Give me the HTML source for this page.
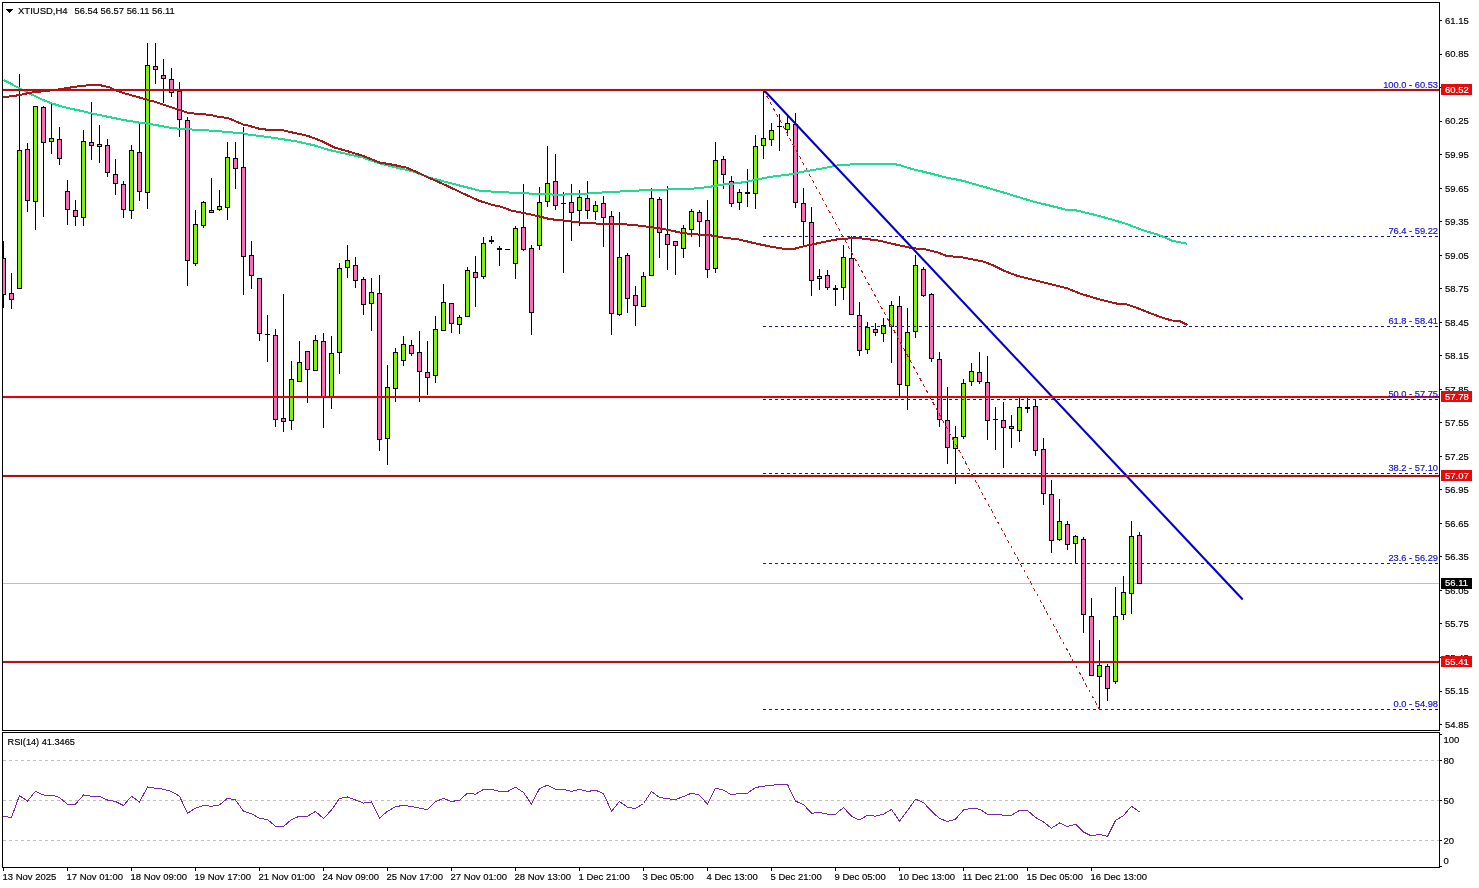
<!DOCTYPE html>
<html lang="en"><head><meta charset="utf-8"><title>XTIUSD,H4</title>
<style>html,body{margin:0;padding:0;background:#fff;overflow:hidden}svg{display:block}text{font-family:"Liberation Sans","DejaVu Sans",sans-serif;font-size:9.5px;fill:#000;stroke:#000;stroke-width:.16px}.b{fill:#1212c4;stroke:#1212c4}.w{fill:#fff;stroke:#fff}.ce{shape-rendering:crispEdges}</style></head><body>
<svg width="1479" height="888" viewBox="0 0 1479 888">
<rect width="1479" height="888" fill="#fff"/>
<g class="ce">
<rect x="3" y="583" width="1436" height="1" fill="#c0c0c0"/>
<line x1="3" x2="1439" y1="760.5" y2="760.5" stroke="#c0c0c0" stroke-width="1" stroke-dasharray="3 3"/>
<line x1="3" x2="1439" y1="800.5" y2="800.5" stroke="#c0c0c0" stroke-width="1" stroke-dasharray="3 3"/>
<line x1="3" x2="1439" y1="840.5" y2="840.5" stroke="#c0c0c0" stroke-width="1" stroke-dasharray="3 3"/>
</g>
<g class="ce">
<rect x="3" y="88" width="1436" height="4" fill="#fff0f0"/>
<rect x="3" y="395" width="1436" height="4" fill="#fff0f0"/>
<rect x="3" y="474" width="1436" height="4" fill="#fff0f0"/>
<rect x="3" y="660" width="1436" height="4" fill="#fff0f0"/>
<rect x="3" y="241" width="1" height="67"/>
<rect x="1" y="258" width="5" height="37"/>
<rect x="2" y="259" width="3" height="35" fill="#f870b4"/>
<rect x="11" y="273" width="1" height="36"/>
<rect x="9" y="293" width="5" height="7"/>
<rect x="10" y="294" width="3" height="5" fill="#f870b4"/>
<rect x="19" y="74" width="1" height="215"/>
<rect x="17" y="150" width="5" height="139"/>
<rect x="18" y="151" width="3" height="137" fill="#80f010"/>
<rect x="27" y="143" width="1" height="69"/>
<rect x="25" y="149" width="5" height="52"/>
<rect x="26" y="150" width="3" height="50" fill="#f870b4"/>
<rect x="35" y="106" width="1" height="124"/>
<rect x="33" y="106" width="5" height="96"/>
<rect x="34" y="107" width="3" height="94" fill="#80f010"/>
<rect x="43" y="106" width="1" height="111"/>
<rect x="41" y="107" width="5" height="36"/>
<rect x="42" y="108" width="3" height="34" fill="#f870b4"/>
<rect x="51" y="104" width="1" height="50"/>
<rect x="49" y="138" width="5" height="4"/>
<rect x="50" y="139" width="3" height="2" fill="#80f010"/>
<rect x="59" y="127" width="1" height="38"/>
<rect x="57" y="139" width="5" height="20"/>
<rect x="58" y="140" width="3" height="18" fill="#f870b4"/>
<rect x="67" y="180" width="1" height="45"/>
<rect x="65" y="191" width="5" height="19"/>
<rect x="66" y="192" width="3" height="17" fill="#f870b4"/>
<rect x="75" y="200" width="1" height="26"/>
<rect x="73" y="210" width="5" height="7"/>
<rect x="74" y="211" width="3" height="5" fill="#f870b4"/>
<rect x="83" y="130" width="1" height="96"/>
<rect x="81" y="141" width="5" height="77"/>
<rect x="82" y="142" width="3" height="75" fill="#80f010"/>
<rect x="91" y="102" width="1" height="58"/>
<rect x="89" y="142" width="5" height="4"/>
<rect x="90" y="143" width="3" height="2" fill="#f870b4"/>
<rect x="99" y="125" width="1" height="38"/>
<rect x="97" y="144" width="5" height="3"/>
<rect x="98" y="145" width="3" height="1" fill="#80f010"/>
<rect x="107" y="139" width="1" height="38"/>
<rect x="105" y="145" width="5" height="28"/>
<rect x="106" y="146" width="3" height="26" fill="#f870b4"/>
<rect x="115" y="159" width="1" height="36"/>
<rect x="113" y="174" width="5" height="10"/>
<rect x="114" y="175" width="3" height="8" fill="#f870b4"/>
<rect x="123" y="181" width="1" height="37"/>
<rect x="121" y="184" width="5" height="26"/>
<rect x="122" y="185" width="3" height="24" fill="#f870b4"/>
<rect x="131" y="145" width="1" height="74"/>
<rect x="129" y="150" width="5" height="61"/>
<rect x="130" y="151" width="3" height="59" fill="#80f010"/>
<rect x="139" y="124" width="1" height="77"/>
<rect x="137" y="152" width="5" height="40"/>
<rect x="138" y="153" width="3" height="38" fill="#f870b4"/>
<rect x="147" y="43" width="1" height="166"/>
<rect x="145" y="65" width="5" height="128"/>
<rect x="146" y="66" width="3" height="126" fill="#80f010"/>
<rect x="155" y="43" width="1" height="41"/>
<rect x="153" y="66" width="5" height="4"/>
<rect x="154" y="67" width="3" height="2" fill="#f870b4"/>
<rect x="163" y="59" width="1" height="44"/>
<rect x="161" y="75" width="5" height="4"/>
<rect x="162" y="76" width="3" height="2" fill="#f870b4"/>
<rect x="171" y="68" width="1" height="29"/>
<rect x="169" y="79" width="5" height="14"/>
<rect x="170" y="80" width="3" height="12" fill="#f870b4"/>
<rect x="179" y="82" width="1" height="55"/>
<rect x="177" y="91" width="5" height="29"/>
<rect x="178" y="92" width="3" height="27" fill="#f870b4"/>
<rect x="187" y="117" width="1" height="169"/>
<rect x="185" y="120" width="5" height="141"/>
<rect x="186" y="121" width="3" height="139" fill="#f870b4"/>
<rect x="195" y="210" width="1" height="56"/>
<rect x="193" y="224" width="5" height="40"/>
<rect x="194" y="225" width="3" height="38" fill="#80f010"/>
<rect x="203" y="201" width="1" height="27"/>
<rect x="201" y="202" width="5" height="24"/>
<rect x="202" y="203" width="3" height="22" fill="#80f010"/>
<rect x="211" y="178" width="1" height="35"/>
<rect x="209" y="210" width="5" height="3"/>
<rect x="210" y="211" width="3" height="1" fill="#80f010"/>
<rect x="219" y="190" width="1" height="21"/>
<rect x="217" y="206" width="5" height="4"/>
<rect x="218" y="207" width="3" height="2" fill="#80f010"/>
<rect x="227" y="142" width="1" height="78"/>
<rect x="225" y="157" width="5" height="51"/>
<rect x="226" y="158" width="3" height="49" fill="#80f010"/>
<rect x="235" y="142" width="1" height="47"/>
<rect x="233" y="158" width="5" height="11"/>
<rect x="234" y="159" width="3" height="9" fill="#f870b4"/>
<rect x="243" y="127" width="1" height="168"/>
<rect x="241" y="167" width="5" height="90"/>
<rect x="242" y="168" width="3" height="88" fill="#f870b4"/>
<rect x="251" y="241" width="1" height="48"/>
<rect x="249" y="255" width="5" height="21"/>
<rect x="250" y="256" width="3" height="19" fill="#f870b4"/>
<rect x="259" y="278" width="1" height="63"/>
<rect x="257" y="278" width="5" height="56"/>
<rect x="258" y="279" width="3" height="54" fill="#f870b4"/>
<rect x="267" y="315" width="1" height="47"/>
<rect x="265" y="334" width="5" height="1"/>
<rect x="275" y="329" width="1" height="98"/>
<rect x="273" y="335" width="5" height="85"/>
<rect x="274" y="336" width="3" height="83" fill="#f870b4"/>
<rect x="283" y="294" width="1" height="138"/>
<rect x="281" y="418" width="5" height="4"/>
<rect x="282" y="419" width="3" height="2" fill="#f870b4"/>
<rect x="291" y="361" width="1" height="69"/>
<rect x="289" y="379" width="5" height="42"/>
<rect x="290" y="380" width="3" height="40" fill="#80f010"/>
<rect x="299" y="341" width="1" height="41"/>
<rect x="297" y="362" width="5" height="20"/>
<rect x="298" y="363" width="3" height="18" fill="#80f010"/>
<rect x="307" y="351" width="1" height="52"/>
<rect x="305" y="351" width="5" height="19"/>
<rect x="306" y="352" width="3" height="17" fill="#f870b4"/>
<rect x="315" y="335" width="1" height="36"/>
<rect x="313" y="340" width="5" height="31"/>
<rect x="314" y="341" width="3" height="29" fill="#80f010"/>
<rect x="323" y="333" width="1" height="95"/>
<rect x="321" y="341" width="5" height="56"/>
<rect x="322" y="342" width="3" height="54" fill="#f870b4"/>
<rect x="331" y="336" width="1" height="73"/>
<rect x="329" y="353" width="5" height="44"/>
<rect x="330" y="354" width="3" height="42" fill="#80f010"/>
<rect x="339" y="263" width="1" height="111"/>
<rect x="337" y="268" width="5" height="85"/>
<rect x="338" y="269" width="3" height="83" fill="#80f010"/>
<rect x="347" y="245" width="1" height="33"/>
<rect x="345" y="260" width="5" height="8"/>
<rect x="346" y="261" width="3" height="6" fill="#80f010"/>
<rect x="355" y="257" width="1" height="31"/>
<rect x="353" y="265" width="5" height="16"/>
<rect x="354" y="266" width="3" height="14" fill="#f870b4"/>
<rect x="363" y="277" width="1" height="38"/>
<rect x="361" y="279" width="5" height="26"/>
<rect x="362" y="280" width="3" height="24" fill="#f870b4"/>
<rect x="371" y="278" width="1" height="53"/>
<rect x="369" y="292" width="5" height="12"/>
<rect x="370" y="293" width="3" height="10" fill="#80f010"/>
<rect x="379" y="275" width="1" height="176"/>
<rect x="377" y="293" width="5" height="147"/>
<rect x="378" y="294" width="3" height="145" fill="#f870b4"/>
<rect x="387" y="365" width="1" height="100"/>
<rect x="385" y="387" width="5" height="52"/>
<rect x="386" y="388" width="3" height="50" fill="#80f010"/>
<rect x="395" y="348" width="1" height="54"/>
<rect x="393" y="352" width="5" height="37"/>
<rect x="394" y="353" width="3" height="35" fill="#80f010"/>
<rect x="403" y="336" width="1" height="30"/>
<rect x="401" y="344" width="5" height="17"/>
<rect x="402" y="345" width="3" height="15" fill="#80f010"/>
<rect x="411" y="340" width="1" height="16"/>
<rect x="409" y="345" width="5" height="9"/>
<rect x="410" y="346" width="3" height="7" fill="#f870b4"/>
<rect x="419" y="331" width="1" height="71"/>
<rect x="417" y="352" width="5" height="20"/>
<rect x="418" y="353" width="3" height="18" fill="#f870b4"/>
<rect x="427" y="341" width="1" height="54"/>
<rect x="425" y="372" width="5" height="6"/>
<rect x="426" y="373" width="3" height="4" fill="#f870b4"/>
<rect x="435" y="316" width="1" height="67"/>
<rect x="433" y="329" width="5" height="47"/>
<rect x="434" y="330" width="3" height="45" fill="#80f010"/>
<rect x="443" y="284" width="1" height="47"/>
<rect x="441" y="302" width="5" height="29"/>
<rect x="442" y="303" width="3" height="27" fill="#80f010"/>
<rect x="451" y="303" width="1" height="30"/>
<rect x="449" y="303" width="5" height="21"/>
<rect x="450" y="304" width="3" height="19" fill="#f870b4"/>
<rect x="459" y="315" width="1" height="19"/>
<rect x="457" y="317" width="5" height="8"/>
<rect x="458" y="318" width="3" height="6" fill="#80f010"/>
<rect x="467" y="267" width="1" height="50"/>
<rect x="465" y="270" width="5" height="47"/>
<rect x="466" y="271" width="3" height="45" fill="#80f010"/>
<rect x="475" y="256" width="1" height="51"/>
<rect x="473" y="272" width="5" height="6"/>
<rect x="474" y="273" width="3" height="4" fill="#f870b4"/>
<rect x="483" y="237" width="1" height="42"/>
<rect x="481" y="243" width="5" height="34"/>
<rect x="482" y="244" width="3" height="32" fill="#80f010"/>
<rect x="491" y="236" width="1" height="8"/>
<rect x="489" y="240" width="5" height="2"/>
<rect x="499" y="246" width="1" height="20"/>
<rect x="497" y="248" width="5" height="2"/>
<rect x="507" y="249" width="1" height="1"/>
<rect x="505" y="249" width="5" height="1"/>
<rect x="515" y="226" width="1" height="53"/>
<rect x="513" y="228" width="5" height="36"/>
<rect x="514" y="229" width="3" height="34" fill="#80f010"/>
<rect x="523" y="184" width="1" height="67"/>
<rect x="521" y="227" width="5" height="23"/>
<rect x="522" y="228" width="3" height="21" fill="#f870b4"/>
<rect x="531" y="245" width="1" height="90"/>
<rect x="529" y="248" width="5" height="65"/>
<rect x="530" y="249" width="3" height="63" fill="#f870b4"/>
<rect x="539" y="187" width="1" height="63"/>
<rect x="537" y="202" width="5" height="44"/>
<rect x="538" y="203" width="3" height="42" fill="#80f010"/>
<rect x="547" y="146" width="1" height="61"/>
<rect x="545" y="183" width="5" height="19"/>
<rect x="546" y="184" width="3" height="17" fill="#80f010"/>
<rect x="555" y="154" width="1" height="56"/>
<rect x="553" y="181" width="5" height="25"/>
<rect x="554" y="182" width="3" height="23" fill="#f870b4"/>
<rect x="563" y="192" width="1" height="81"/>
<rect x="561" y="203" width="5" height="1"/>
<rect x="571" y="184" width="1" height="57"/>
<rect x="569" y="202" width="5" height="11"/>
<rect x="570" y="203" width="3" height="9" fill="#f870b4"/>
<rect x="579" y="190" width="1" height="36"/>
<rect x="577" y="197" width="5" height="14"/>
<rect x="578" y="198" width="3" height="12" fill="#80f010"/>
<rect x="587" y="181" width="1" height="38"/>
<rect x="585" y="198" width="5" height="13"/>
<rect x="586" y="199" width="3" height="11" fill="#f870b4"/>
<rect x="595" y="201" width="1" height="19"/>
<rect x="593" y="205" width="5" height="7"/>
<rect x="594" y="206" width="3" height="5" fill="#80f010"/>
<rect x="603" y="196" width="1" height="51"/>
<rect x="601" y="203" width="5" height="15"/>
<rect x="602" y="204" width="3" height="13" fill="#f870b4"/>
<rect x="611" y="211" width="1" height="124"/>
<rect x="609" y="216" width="5" height="98"/>
<rect x="610" y="217" width="3" height="96" fill="#f870b4"/>
<rect x="619" y="212" width="1" height="104"/>
<rect x="617" y="257" width="5" height="58"/>
<rect x="618" y="258" width="3" height="56" fill="#80f010"/>
<rect x="627" y="253" width="1" height="60"/>
<rect x="625" y="255" width="5" height="44"/>
<rect x="626" y="256" width="3" height="42" fill="#f870b4"/>
<rect x="635" y="286" width="1" height="40"/>
<rect x="633" y="295" width="5" height="11"/>
<rect x="634" y="296" width="3" height="9" fill="#f870b4"/>
<rect x="643" y="272" width="1" height="35"/>
<rect x="641" y="276" width="5" height="31"/>
<rect x="642" y="277" width="3" height="29" fill="#80f010"/>
<rect x="651" y="188" width="1" height="88"/>
<rect x="649" y="198" width="5" height="78"/>
<rect x="650" y="199" width="3" height="76" fill="#80f010"/>
<rect x="659" y="197" width="1" height="61"/>
<rect x="657" y="199" width="5" height="34"/>
<rect x="658" y="200" width="3" height="32" fill="#f870b4"/>
<rect x="667" y="186" width="1" height="84"/>
<rect x="665" y="234" width="5" height="11"/>
<rect x="666" y="235" width="3" height="9" fill="#f870b4"/>
<rect x="675" y="241" width="1" height="34"/>
<rect x="673" y="241" width="5" height="5"/>
<rect x="674" y="242" width="3" height="3" fill="#f870b4"/>
<rect x="683" y="225" width="1" height="33"/>
<rect x="681" y="228" width="5" height="21"/>
<rect x="682" y="229" width="3" height="19" fill="#80f010"/>
<rect x="691" y="209" width="1" height="28"/>
<rect x="689" y="211" width="5" height="19"/>
<rect x="690" y="212" width="3" height="17" fill="#80f010"/>
<rect x="699" y="210" width="1" height="37"/>
<rect x="697" y="212" width="5" height="10"/>
<rect x="698" y="213" width="3" height="8" fill="#f870b4"/>
<rect x="707" y="200" width="1" height="78"/>
<rect x="705" y="220" width="5" height="50"/>
<rect x="706" y="221" width="3" height="48" fill="#f870b4"/>
<rect x="715" y="142" width="1" height="131"/>
<rect x="713" y="160" width="5" height="109"/>
<rect x="714" y="161" width="3" height="107" fill="#80f010"/>
<rect x="723" y="156" width="1" height="33"/>
<rect x="721" y="159" width="5" height="16"/>
<rect x="722" y="160" width="3" height="14" fill="#f870b4"/>
<rect x="731" y="176" width="1" height="31"/>
<rect x="729" y="181" width="5" height="23"/>
<rect x="730" y="182" width="3" height="21" fill="#f870b4"/>
<rect x="739" y="189" width="1" height="21"/>
<rect x="737" y="192" width="5" height="11"/>
<rect x="738" y="193" width="3" height="9" fill="#80f010"/>
<rect x="747" y="169" width="1" height="38"/>
<rect x="745" y="192" width="5" height="2"/>
<rect x="755" y="135" width="1" height="74"/>
<rect x="753" y="146" width="5" height="48"/>
<rect x="754" y="147" width="3" height="46" fill="#80f010"/>
<rect x="763" y="90" width="1" height="69"/>
<rect x="761" y="138" width="5" height="8"/>
<rect x="762" y="139" width="3" height="6" fill="#80f010"/>
<rect x="771" y="123" width="1" height="23"/>
<rect x="769" y="130" width="5" height="10"/>
<rect x="770" y="131" width="3" height="8" fill="#80f010"/>
<rect x="779" y="114" width="1" height="37"/>
<rect x="777" y="126" width="5" height="1"/>
<rect x="787" y="116" width="1" height="20"/>
<rect x="785" y="123" width="5" height="7"/>
<rect x="786" y="124" width="3" height="5" fill="#80f010"/>
<rect x="795" y="113" width="1" height="95"/>
<rect x="793" y="124" width="5" height="79"/>
<rect x="794" y="125" width="3" height="77" fill="#f870b4"/>
<rect x="803" y="188" width="1" height="57"/>
<rect x="801" y="203" width="5" height="19"/>
<rect x="802" y="204" width="3" height="17" fill="#f870b4"/>
<rect x="811" y="207" width="1" height="89"/>
<rect x="809" y="222" width="5" height="59"/>
<rect x="810" y="223" width="3" height="57" fill="#f870b4"/>
<rect x="819" y="269" width="1" height="21"/>
<rect x="817" y="276" width="5" height="3"/>
<rect x="818" y="277" width="3" height="1" fill="#80f010"/>
<rect x="827" y="270" width="1" height="20"/>
<rect x="825" y="275" width="5" height="13"/>
<rect x="826" y="276" width="3" height="11" fill="#f870b4"/>
<rect x="835" y="285" width="1" height="21"/>
<rect x="833" y="288" width="5" height="2"/>
<rect x="843" y="245" width="1" height="55"/>
<rect x="841" y="257" width="5" height="31"/>
<rect x="842" y="258" width="3" height="29" fill="#80f010"/>
<rect x="851" y="236" width="1" height="79"/>
<rect x="849" y="258" width="5" height="57"/>
<rect x="850" y="259" width="3" height="55" fill="#f870b4"/>
<rect x="859" y="302" width="1" height="54"/>
<rect x="857" y="315" width="5" height="36"/>
<rect x="858" y="316" width="3" height="34" fill="#f870b4"/>
<rect x="867" y="322" width="1" height="32"/>
<rect x="865" y="327" width="5" height="23"/>
<rect x="866" y="328" width="3" height="21" fill="#80f010"/>
<rect x="875" y="323" width="1" height="13"/>
<rect x="873" y="329" width="5" height="4"/>
<rect x="874" y="330" width="3" height="2" fill="#f870b4"/>
<rect x="883" y="318" width="1" height="24"/>
<rect x="881" y="325" width="5" height="9"/>
<rect x="882" y="326" width="3" height="7" fill="#80f010"/>
<rect x="891" y="301" width="1" height="62"/>
<rect x="889" y="305" width="5" height="22"/>
<rect x="890" y="306" width="3" height="20" fill="#80f010"/>
<rect x="899" y="296" width="1" height="102"/>
<rect x="897" y="306" width="5" height="79"/>
<rect x="898" y="307" width="3" height="77" fill="#f870b4"/>
<rect x="907" y="308" width="1" height="102"/>
<rect x="905" y="332" width="5" height="54"/>
<rect x="906" y="333" width="3" height="52" fill="#80f010"/>
<rect x="915" y="255" width="1" height="83"/>
<rect x="913" y="265" width="5" height="67"/>
<rect x="914" y="266" width="3" height="65" fill="#80f010"/>
<rect x="923" y="267" width="1" height="30"/>
<rect x="921" y="269" width="5" height="27"/>
<rect x="922" y="270" width="3" height="25" fill="#f870b4"/>
<rect x="931" y="293" width="1" height="69"/>
<rect x="929" y="294" width="5" height="65"/>
<rect x="930" y="295" width="3" height="63" fill="#f870b4"/>
<rect x="939" y="352" width="1" height="75"/>
<rect x="937" y="359" width="5" height="61"/>
<rect x="938" y="360" width="3" height="59" fill="#f870b4"/>
<rect x="947" y="387" width="1" height="77"/>
<rect x="945" y="420" width="5" height="28"/>
<rect x="946" y="421" width="3" height="26" fill="#f870b4"/>
<rect x="955" y="426" width="1" height="58"/>
<rect x="953" y="437" width="5" height="12"/>
<rect x="954" y="438" width="3" height="10" fill="#80f010"/>
<rect x="963" y="379" width="1" height="60"/>
<rect x="961" y="383" width="5" height="54"/>
<rect x="962" y="384" width="3" height="52" fill="#80f010"/>
<rect x="971" y="363" width="1" height="23"/>
<rect x="969" y="371" width="5" height="11"/>
<rect x="970" y="372" width="3" height="9" fill="#80f010"/>
<rect x="979" y="352" width="1" height="32"/>
<rect x="977" y="372" width="5" height="10"/>
<rect x="978" y="373" width="3" height="8" fill="#f870b4"/>
<rect x="987" y="356" width="1" height="84"/>
<rect x="985" y="382" width="5" height="39"/>
<rect x="986" y="383" width="3" height="37" fill="#f870b4"/>
<rect x="995" y="407" width="1" height="43"/>
<rect x="993" y="419" width="5" height="1"/>
<rect x="1003" y="402" width="1" height="66"/>
<rect x="1001" y="420" width="5" height="8"/>
<rect x="1002" y="421" width="3" height="6" fill="#f870b4"/>
<rect x="1011" y="415" width="1" height="33"/>
<rect x="1009" y="426" width="5" height="3"/>
<rect x="1010" y="427" width="3" height="1" fill="#f870b4"/>
<rect x="1019" y="398" width="1" height="44"/>
<rect x="1017" y="407" width="5" height="24"/>
<rect x="1018" y="408" width="3" height="22" fill="#80f010"/>
<rect x="1027" y="398" width="1" height="15"/>
<rect x="1025" y="407" width="5" height="2"/>
<rect x="1035" y="399" width="1" height="57"/>
<rect x="1033" y="406" width="5" height="45"/>
<rect x="1034" y="407" width="3" height="43" fill="#f870b4"/>
<rect x="1043" y="438" width="1" height="67"/>
<rect x="1041" y="449" width="5" height="45"/>
<rect x="1042" y="450" width="3" height="43" fill="#f870b4"/>
<rect x="1051" y="480" width="1" height="73"/>
<rect x="1049" y="494" width="5" height="47"/>
<rect x="1050" y="495" width="3" height="45" fill="#f870b4"/>
<rect x="1059" y="499" width="1" height="42"/>
<rect x="1057" y="521" width="5" height="19"/>
<rect x="1058" y="522" width="3" height="17" fill="#80f010"/>
<rect x="1067" y="521" width="1" height="29"/>
<rect x="1065" y="524" width="5" height="21"/>
<rect x="1066" y="525" width="3" height="19" fill="#f870b4"/>
<rect x="1075" y="535" width="1" height="29"/>
<rect x="1073" y="536" width="5" height="8"/>
<rect x="1074" y="537" width="3" height="6" fill="#80f010"/>
<rect x="1083" y="537" width="1" height="96"/>
<rect x="1081" y="539" width="5" height="76"/>
<rect x="1082" y="540" width="3" height="74" fill="#f870b4"/>
<rect x="1091" y="598" width="1" height="78"/>
<rect x="1089" y="616" width="5" height="60"/>
<rect x="1090" y="617" width="3" height="58" fill="#f870b4"/>
<rect x="1099" y="640" width="1" height="70"/>
<rect x="1097" y="665" width="5" height="12"/>
<rect x="1098" y="666" width="3" height="10" fill="#80f010"/>
<rect x="1107" y="664" width="1" height="37"/>
<rect x="1105" y="666" width="5" height="23"/>
<rect x="1106" y="667" width="3" height="21" fill="#f870b4"/>
<rect x="1115" y="587" width="1" height="97"/>
<rect x="1113" y="616" width="5" height="66"/>
<rect x="1114" y="617" width="3" height="64" fill="#80f010"/>
<rect x="1123" y="576" width="1" height="44"/>
<rect x="1121" y="592" width="5" height="23"/>
<rect x="1122" y="593" width="3" height="21" fill="#80f010"/>
<rect x="1131" y="521" width="1" height="93"/>
<rect x="1129" y="536" width="5" height="58"/>
<rect x="1130" y="537" width="3" height="56" fill="#80f010"/>
<rect x="1139" y="532" width="1" height="52"/>
<rect x="1137" y="535" width="5" height="49"/>
<rect x="1138" y="536" width="3" height="47" fill="#f870b4"/>
</g>
<g class="ce">
<line x1="763" x2="1439" y1="90.5" y2="90.5" stroke="#18188c" stroke-width="1" stroke-dasharray="3 3"/>
<line x1="763" x2="1439" y1="236.5" y2="236.5" stroke="#18188c" stroke-width="1" stroke-dasharray="3 3"/>
<line x1="763" x2="1439" y1="326.5" y2="326.5" stroke="#18188c" stroke-width="1" stroke-dasharray="3 3"/>
<line x1="763" x2="1439" y1="399.5" y2="399.5" stroke="#18188c" stroke-width="1" stroke-dasharray="3 3"/>
<line x1="763" x2="1439" y1="473.5" y2="473.5" stroke="#18188c" stroke-width="1" stroke-dasharray="3 3"/>
<line x1="763" x2="1439" y1="563.5" y2="563.5" stroke="#18188c" stroke-width="1" stroke-dasharray="3 3"/>
<line x1="763" x2="1439" y1="709.5" y2="709.5" stroke="#18188c" stroke-width="1" stroke-dasharray="3 3"/>
<line x1="763.5" y1="90" x2="1099.5" y2="709.5" stroke="#b81c1c" stroke-width="1" stroke-dasharray="3.41 3.41"/>
</g>
<polyline class="ce" fill="none" stroke="#20dc90" stroke-width="2" stroke-linejoin="round" points="3.3,80.0 11.7,84.2 19.7,88.3 27.5,92.5 35.5,96.3 43.3,100.0 51.7,103.3 59.5,105.8 67.5,108.0 75.5,109.7 83.3,111.3 91.3,113.3 99.5,115.0 107.5,116.7 115.5,118.3 123.3,120.0 131.5,121.3 139.5,122.7 147.5,123.3 155.5,125.0 163.3,126.3 171.7,128.0 179.5,128.7 187.5,129.3 195.5,129.7 203.5,130.0 211.7,130.8 219.7,131.3 227.7,132.0 235.7,132.7 243.7,133.3 246.0,134.2 262.7,136.3 279.3,138.7 296.0,141.3 312.7,145.0 329.3,150.0 346.0,153.7 362.7,157.5 379.3,163.3 396.0,167.5 412.7,171.3 429.3,177.5 446.0,182.0 462.7,186.3 479.3,190.5 492.0,191.6 508.7,192.5 525.3,193.3 542.0,194.2 558.7,194.7 575.3,194.2 592.0,193.3 608.7,192.0 625.3,191.3 642.0,190.3 658.7,189.7 675.3,189.3 692.0,188.7 708.7,187.0 725.3,184.2 738.0,183.2 754.7,180.0 771.3,176.7 788.0,174.7 804.7,171.3 821.3,168.7 838.0,165.3 854.7,164.2 871.3,163.8 891.3,163.8 898.0,164.7 913.0,169.2 929.7,173.3 946.3,177.5 963.0,180.8 974.7,184.2 984.0,186.8 1000.7,191.7 1017.3,196.7 1034.0,201.7 1050.7,205.8 1067.3,210.0 1075.7,210.3 1092.3,214.2 1109.0,218.7 1125.7,223.7 1142.3,230.0 1159.0,235.0 1172.3,240.8 1187.3,243.8"/>
<polyline class="ce" fill="none" stroke="#a01c1c" stroke-width="2" stroke-linejoin="round" points="3.3,97.0 11.7,96.3 19.7,95.0 27.5,93.3 35.5,92.0 43.3,91.3 51.7,90.3 59.5,89.3 67.5,88.0 75.5,86.7 83.3,85.8 91.3,85.0 96.7,84.7 103.3,85.8 110.0,87.5 115.5,90.3 123.3,93.0 131.5,95.3 139.5,97.5 147.5,99.7 155.5,102.0 163.3,104.7 171.7,107.5 179.5,110.0 187.5,112.7 195.5,113.7 203.5,114.2 211.7,115.3 219.7,117.0 227.7,118.0 235.7,121.3 243.7,124.7 246.0,125.0 259.3,128.7 269.3,130.0 281.8,130.0 296.0,133.3 307.7,135.8 321.0,140.8 334.3,147.5 346.0,150.8 362.7,155.8 379.3,162.5 392.7,164.7 406.0,167.5 417.7,172.5 429.3,178.0 446.0,185.3 462.7,193.3 479.3,200.8 492.0,204.8 502.0,207.0 512.0,210.8 525.3,213.3 538.7,216.3 550.3,219.2 567.0,220.8 583.7,223.0 600.3,223.7 617.0,223.7 633.7,225.0 650.3,227.0 667.0,229.7 680.3,232.5 692.0,234.2 708.7,235.0 725.3,238.0 738.0,239.2 754.7,243.3 771.3,246.7 783.0,248.7 794.7,248.7 808.0,245.3 821.3,242.5 838.0,239.2 854.7,238.0 864.7,238.7 879.7,240.8 896.3,244.7 913.0,248.3 924.7,249.2 938.0,252.5 946.3,255.8 963.0,257.5 984.0,261.7 992.3,265.0 1004.0,270.8 1017.3,275.8 1034.0,280.0 1050.7,284.2 1067.3,288.3 1080.7,293.8 1100.7,299.7 1117.3,303.7 1125.7,304.2 1134.0,306.7 1150.7,313.3 1164.0,318.3 1172.3,320.5 1179.0,320.8 1187.3,325.0"/>
<line x1="763.8" y1="90" x2="1242.7" y2="599.5" stroke="#0000c8" stroke-width="2.1"/>
<g class="ce">
<rect x="3" y="89" width="1436" height="2" fill="#ae1216"/>
<rect x="3" y="396" width="1436" height="2" fill="#d8060e"/>
<rect x="3" y="475" width="1436" height="2" fill="#a81216"/>
<rect x="3" y="661" width="1436" height="2" fill="#b01418"/>
</g>
<polyline class="ce" fill="none" stroke="#7a28a8" stroke-width="1" stroke-linejoin="round" points="3.5,816.2 11.5,817.5 19.5,795.5 27.5,801.2 35.5,791.2 43.5,795.0 51.5,795.0 59.5,797.5 67.5,804.2 75.5,804.2 83.5,795.0 91.5,796.2 99.5,796.2 107.5,800.0 115.5,801.5 123.5,805.5 131.5,796.2 139.5,802.0 147.5,787.0 155.5,788.2 163.5,789.2 171.5,791.5 179.5,796.2 187.5,813.2 195.5,808.2 203.5,805.5 211.5,806.2 219.5,805.0 227.5,798.2 235.5,800.0 243.5,811.2 251.5,813.8 259.5,818.2 267.5,819.5 275.5,826.2 283.5,826.5 291.5,819.5 299.5,816.2 307.5,816.2 315.5,811.5 323.5,818.5 331.5,810.0 339.5,798.5 347.5,797.0 355.5,800.0 363.5,803.1 371.5,802.0 379.5,818.2 387.5,811.2 395.5,806.8 403.5,805.2 411.5,806.5 419.5,808.2 427.5,809.5 435.5,801.5 443.5,798.5 451.5,801.5 459.5,800.2 467.5,793.2 475.5,794.2 483.5,789.5 491.5,789.2 499.5,791.5 507.5,791.5 515.5,787.2 523.5,792.5 531.5,804.2 539.5,788.5 547.5,785.2 555.5,789.2 563.5,789.2 571.5,791.5 579.5,789.2 587.5,791.5 595.5,790.2 603.5,793.5 611.5,811.2 619.5,801.5 627.5,807.2 635.5,808.5 643.5,803.5 651.5,791.5 659.5,797.5 667.5,798.8 675.5,799.5 683.5,796.5 691.5,793.2 699.5,795.2 707.5,804.2 715.5,788.2 723.5,790.2 731.5,794.8 739.5,793.5 747.5,793.2 755.5,787.5 763.5,786.2 771.5,785.2 779.5,784.5 787.5,784.5 795.5,801.2 803.5,804.5 811.5,813.2 819.5,812.5 827.5,814.2 835.5,814.2 843.5,807.5 851.5,816.2 859.5,820.0 867.5,815.2 875.5,816.2 883.5,814.2 891.5,809.5 899.5,821.2 907.5,810.5 915.5,799.2 923.5,802.5 931.5,811.2 939.5,818.5 947.5,821.5 955.5,819.2 963.5,810.0 971.5,808.2 979.5,809.2 987.5,814.2 995.5,814.2 1003.5,815.2 1011.5,815.2 1019.5,810.5 1027.5,810.5 1035.5,817.5 1043.5,822.0 1051.5,828.2 1059.5,823.0 1067.5,826.5 1075.5,824.2 1083.5,832.0 1091.5,836.0 1099.5,834.2 1107.5,836.5 1115.5,820.5 1123.5,815.5 1131.5,806.2 1139.5,812.0"/>
<g class="ce">
<rect x="0" y="0" width="2" height="888" fill="#fff"/>
<rect x="2" y="2" width="1438" height="1"/>
<rect x="2" y="2" width="1" height="866"/>
<rect x="1439" y="2" width="1" height="866"/>
<rect x="2" y="730" width="1438" height="1"/>
<rect x="2" y="732" width="1438" height="1"/>
<rect x="2" y="867" width="1438" height="1"/>
<rect x="0" y="731" width="1479" height="1" fill="#fff"/>
<rect x="1440" y="20" width="2" height="1"/>
<rect x="1440" y="54" width="2" height="1"/>
<rect x="1440" y="87" width="2" height="1"/>
<rect x="1440" y="121" width="2" height="1"/>
<rect x="1440" y="154" width="2" height="1"/>
<rect x="1440" y="188" width="2" height="1"/>
<rect x="1440" y="221" width="2" height="1"/>
<rect x="1440" y="255" width="2" height="1"/>
<rect x="1440" y="288" width="2" height="1"/>
<rect x="1440" y="322" width="2" height="1"/>
<rect x="1440" y="355" width="2" height="1"/>
<rect x="1440" y="389" width="2" height="1"/>
<rect x="1440" y="422" width="2" height="1"/>
<rect x="1440" y="456" width="2" height="1"/>
<rect x="1440" y="489" width="2" height="1"/>
<rect x="1440" y="523" width="2" height="1"/>
<rect x="1440" y="556" width="2" height="1"/>
<rect x="1440" y="590" width="2" height="1"/>
<rect x="1440" y="623" width="2" height="1"/>
<rect x="1440" y="657" width="2" height="1"/>
<rect x="1440" y="691" width="2" height="1"/>
<rect x="1440" y="724" width="2" height="1"/>
<rect x="1440" y="734" width="2" height="1"/>
<rect x="1440" y="760" width="2" height="1"/>
<rect x="1440" y="800" width="2" height="1"/>
<rect x="1440" y="840" width="2" height="1"/>
<rect x="1440" y="866" width="2" height="1"/>
<rect x="3" y="868" width="1" height="3"/>
<rect x="67" y="868" width="1" height="3"/>
<rect x="131" y="868" width="1" height="3"/>
<rect x="195" y="868" width="1" height="3"/>
<rect x="259" y="868" width="1" height="3"/>
<rect x="323" y="868" width="1" height="3"/>
<rect x="387" y="868" width="1" height="3"/>
<rect x="451" y="868" width="1" height="3"/>
<rect x="515" y="868" width="1" height="3"/>
<rect x="579" y="868" width="1" height="3"/>
<rect x="643" y="868" width="1" height="3"/>
<rect x="707" y="868" width="1" height="3"/>
<rect x="771" y="868" width="1" height="3"/>
<rect x="835" y="868" width="1" height="3"/>
<rect x="899" y="868" width="1" height="3"/>
<rect x="963" y="868" width="1" height="3"/>
<rect x="1027" y="868" width="1" height="3"/>
<rect x="1091" y="868" width="1" height="3"/>
</g>
<text x="1445" y="23.9">61.15</text>
<text x="1445" y="57.4">60.85</text>
<text x="1445" y="124.4">60.25</text>
<text x="1445" y="158.0">59.95</text>
<text x="1445" y="191.5">59.65</text>
<text x="1445" y="225.0">59.35</text>
<text x="1445" y="258.5">59.05</text>
<text x="1445" y="292.0">58.75</text>
<text x="1445" y="325.5">58.45</text>
<text x="1445" y="359.0">58.15</text>
<text x="1445" y="392.5">57.85</text>
<text x="1445" y="426.0">57.55</text>
<text x="1445" y="459.5">57.25</text>
<text x="1445" y="493.1">56.95</text>
<text x="1445" y="526.6">56.65</text>
<text x="1445" y="560.1">56.35</text>
<text x="1445" y="593.6">56.05</text>
<text x="1445" y="627.1">55.75</text>
<text x="1445" y="660.6">55.45</text>
<text x="1445" y="694.1">55.15</text>
<text x="1445" y="727.6">54.85</text>
<text x="1443.5" y="743.0">100</text>
<text x="1443.5" y="764.1">80</text>
<text x="1443.5" y="803.9">50</text>
<text x="1443.5" y="843.7">20</text>
<text x="1443.5" y="864.1">0</text>
<rect class="ce" x="1441" y="84" width="31" height="11" fill="#e60a0a"/>
<text x="1445" y="92.6" class="w">60.52</text>
<rect class="ce" x="1441" y="391" width="31" height="11" fill="#e60a0a"/>
<text x="1445" y="399.6" class="w">57.78</text>
<rect class="ce" x="1441" y="470" width="31" height="11" fill="#e60a0a"/>
<text x="1445" y="478.6" class="w">57.07</text>
<rect class="ce" x="1441" y="656" width="31" height="11" fill="#e60a0a"/>
<text x="1445" y="664.6" class="w">55.41</text>
<rect class="ce" x="1441" y="578" width="31" height="11" fill="#000"/>
<text x="1445" y="586.3" class="w">56.11</text>
<text x="1438" y="87.6" class="b" text-anchor="end" style="font-size:9.3px">100.0 - 60.53</text>
<text x="1438" y="233.6" class="b" text-anchor="end" style="font-size:9.3px">76.4 - 59.22</text>
<text x="1438" y="323.6" class="b" text-anchor="end" style="font-size:9.3px">61.8 - 58.41</text>
<text x="1438" y="396.6" class="b" text-anchor="end" style="font-size:9.3px">50.0 - 57.75</text>
<text x="1438" y="470.6" class="b" text-anchor="end" style="font-size:9.3px">38.2 - 57.10</text>
<text x="1438" y="560.6" class="b" text-anchor="end" style="font-size:9.3px">23.6 - 56.29</text>
<text x="1438" y="706.6" class="b" text-anchor="end" style="font-size:9.3px">0.0 - 54.98</text>
<text x="2.5" y="880">13 Nov 2025</text>
<text x="66.5" y="880">17 Nov 01:00</text>
<text x="130.5" y="880">18 Nov 09:00</text>
<text x="194.5" y="880">19 Nov 17:00</text>
<text x="258.5" y="880">21 Nov 01:00</text>
<text x="322.5" y="880">24 Nov 09:00</text>
<text x="386.5" y="880">25 Nov 17:00</text>
<text x="450.5" y="880">27 Nov 01:00</text>
<text x="514.5" y="880">28 Nov 13:00</text>
<text x="578.5" y="880">1 Dec 21:00</text>
<text x="642.5" y="880">3 Dec 05:00</text>
<text x="706.5" y="880">4 Dec 13:00</text>
<text x="770.5" y="880">5 Dec 21:00</text>
<text x="834.5" y="880">9 Dec 05:00</text>
<text x="898.5" y="880">10 Dec 13:00</text>
<text x="962.5" y="880">11 Dec 21:00</text>
<text x="1026.5" y="880">15 Dec 05:00</text>
<text x="1090.5" y="880">16 Dec 13:00</text>
<path class="ce" d="M6 9h7v1h-1v1h-1v1h-1v1h-1v-1h-1v-1h-1v-1h-1z"/>
<text x="18" y="14">XTIUSD,H4</text>
<text x="74.5" y="14" style="font-size:9.4px">56.54 56.57 56.11 56.11</text>
<text x="7.5" y="745.2" style="font-size:9.2px">RSI(14) 41.3465</text>
</svg></body></html>
